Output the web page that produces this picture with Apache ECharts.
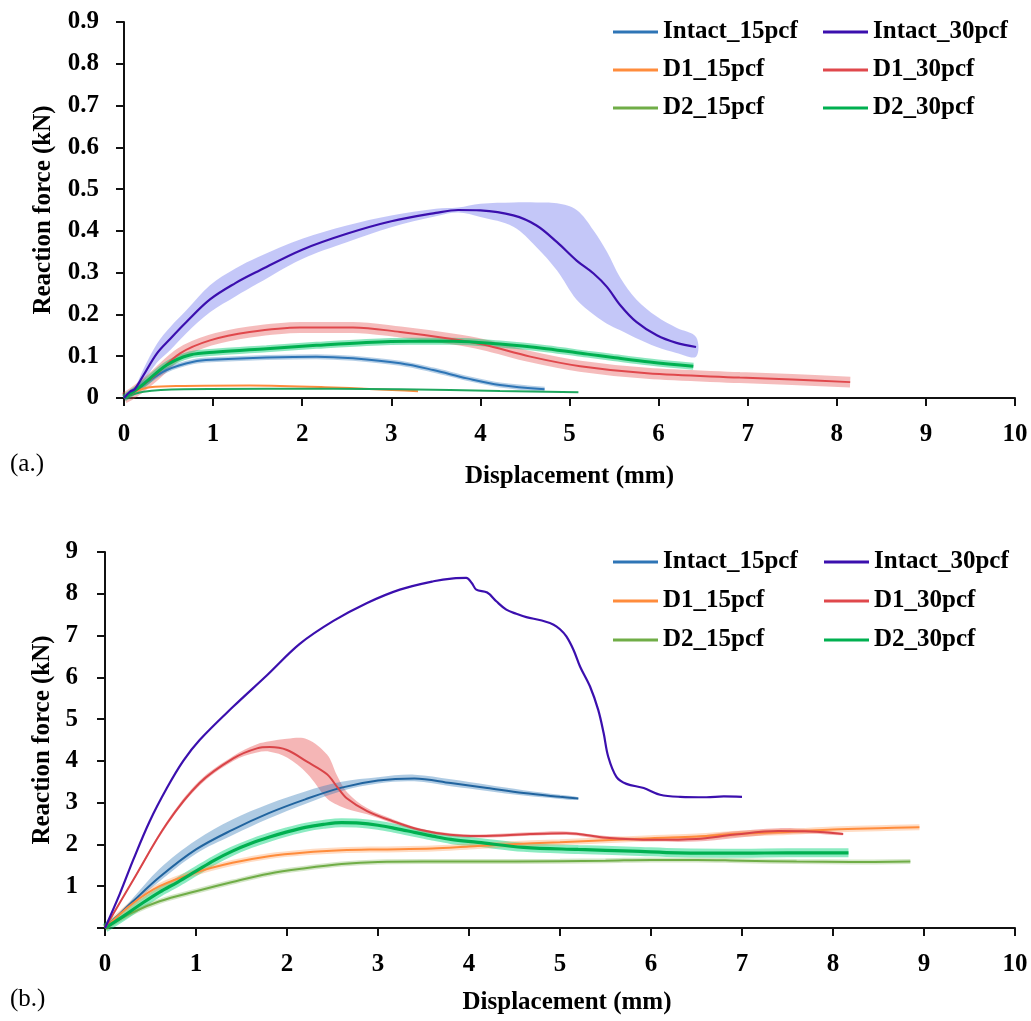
<!DOCTYPE html>
<html><head><meta charset="utf-8">
<script src="https://cdn.jsdelivr.net/npm/echarts@6/dist/echarts.min.js"></script>
<style>html,body{margin:0;padding:0;background:#fff}#c{width:1031px;height:1021px}</style>
</head><body><div id="c"></div>
<script>
// ---------- (a.) top chart data ----------
var a_int30_x = [0,0.067,0.12,0.22,0.37,0.52,0.7,0.965,1.25,1.5,2.0,2.5,3.0,3.5,3.75,4.0,4.37,4.63,4.86,5.08,5.27,5.42,5.57,5.75,5.98,6.2,6.42];
var a_int30_y = [0,0.015,0.021,0.055,0.107,0.142,0.182,0.236,0.275,0.303,0.355,0.393,0.423,0.443,0.450,0.449,0.437,0.413,0.373,0.329,0.298,0.266,0.222,0.182,0.150,0.132,0.122];
var a_int30_hi = [0,0.017,0.025,0.07,0.13,0.17,0.21,0.27,0.31,0.337,0.381,0.413,0.437,0.453,0.456,0.465,0.468,0.468,0.466,0.45,0.401,0.35,0.288,0.236,0.195,0.168,0.146];
var a_int30_lo = [0,0.013,0.018,0.04,0.085,0.115,0.155,0.205,0.243,0.274,0.333,0.373,0.409,0.435,0.444,0.433,0.41,0.361,0.305,0.235,0.2,0.178,0.162,0.143,0.122,0.108,0.099];

var a_d130_x = [0,0.1,0.33,0.63,0.965,1.41,1.975,2.57,3.1,3.66,4.03,4.56,5.12,5.87,6.91,7.5,8.15];
var a_d130_y = [0,0.012,0.051,0.107,0.138,0.158,0.169,0.169,0.158,0.142,0.128,0.099,0.076,0.059,0.049,0.044,0.038];

var a_d230_x = [0,0.2,0.48,0.74,1.04,1.6,2.16,2.72,3.2,3.7,4.22,4.74,5.2,5.49,5.9,6.39];
var a_d230_y = [0,0.03,0.079,0.103,0.110,0.118,0.126,0.133,0.136,0.136,0.129,0.118,0.105,0.097,0.086,0.076];

var a_int15_x = [0,0.2,0.48,0.78,1.04,1.6,2.16,2.57,3.1,3.47,3.85,4.22,4.72];
var a_int15_y = [0,0.03,0.067,0.087,0.092,0.097,0.099,0.095,0.083,0.067,0.047,0.031,0.021];

var a_d115_x = [0,0.12,0.29,0.67,1.41,2.35,3.3];
var a_d115_y = [0,0.015,0.026,0.029,0.030,0.025,0.016];

var a_d215_x = [0,0.22,0.67,1.6,3.1,4.22,5.1];
var a_d215_y = [0,0.015,0.021,0.022,0.021,0.017,0.014];

// ---------- (b.) bottom chart data ----------
var b_int30_x = [0,0.165,0.31,0.49,0.68,0.86,1.04,1.41,1.78,2.14,2.51,2.88,3.24,3.61,3.83,3.97,4.03,4.08,4.2,4.3,4.41,4.52,4.63,4.8,4.93,5.0,5.07,5.15,5.22,5.33,5.42,5.48,5.53,5.62,5.73,5.92,6.1,6.32,6.61,6.8,7.0];
var b_int30_y = [0,0.83,1.63,2.55,3.35,4.0,4.5,5.3,6.05,6.8,7.35,7.78,8.1,8.3,8.37,8.38,8.26,8.1,8.03,7.82,7.62,7.52,7.44,7.36,7.26,7.15,6.98,6.65,6.26,5.78,5.22,4.66,4.1,3.62,3.45,3.35,3.19,3.14,3.13,3.15,3.14];

var b_d130_x = [0,0.31,0.68,1.04,1.41,1.67,1.81,2.0,2.22,2.44,2.55,2.66,2.88,3.17,3.46,3.79,4.12,4.67,5.07,5.51,6.03,6.5,6.9,7.4,7.75,8.11];
var b_d130_y = [0,1.15,2.5,3.47,4.06,4.3,4.33,4.26,3.98,3.68,3.38,3.1,2.8,2.55,2.35,2.23,2.2,2.25,2.27,2.16,2.11,2.13,2.23,2.32,2.31,2.25];
var b_d130_hi = [0,1.18,2.55,3.53,4.12,4.4,4.47,4.53,4.52,4.15,3.65,3.25,2.87,2.6,2.39,2.27,2.24,2.29,2.31,2.2,2.15,2.2,2.31,2.39,2.36,2.28];
var b_d130_lo = [0,1.12,2.45,3.41,4.0,4.2,4.22,4.08,3.7,3.1,2.95,2.85,2.72,2.5,2.31,2.19,2.16,2.21,2.23,2.12,2.07,2.07,2.15,2.25,2.26,2.22];

var b_int15_x = [0,0.3,0.6,1.0,1.4,1.8,2.2,2.6,3.0,3.4,3.8,4.2,4.6,5.0,5.2];
var b_int15_y = [0,0.62,1.22,1.88,2.35,2.75,3.08,3.36,3.53,3.58,3.47,3.35,3.23,3.14,3.1];
var b_int15_hi = [0,0.7,1.42,2.1,2.6,2.97,3.27,3.5,3.61,3.67,3.56,3.43,3.3,3.19,3.13];
var b_int15_lo = [0,0.56,1.12,1.78,2.22,2.62,2.97,3.28,3.46,3.51,3.39,3.28,3.17,3.09,3.07];

var b_d230_x = [0,0.2,0.4,0.6,0.8,1.0,1.2,1.4,1.6,1.8,2.0,2.2,2.4,2.6,2.8,3.0,3.2,3.4,3.6,3.8,4.1,4.6,5.2,5.8,6.3,7.0,7.5,8.17];
var b_d230_y = [0,0.28,0.58,0.86,1.1,1.36,1.62,1.84,2.02,2.17,2.3,2.41,2.48,2.52,2.51,2.46,2.38,2.29,2.2,2.12,2.05,1.93,1.88,1.84,1.8,1.79,1.8,1.8];

var b_d115_x = [0,0.3,0.6,1.0,1.4,1.8,2.2,2.6,3.0,3.6,4.0,4.4,5.0,5.5,6.0,6.5,7.0,7.5,8.0,8.5,8.95];
var b_d115_y = [0,0.58,1.0,1.33,1.56,1.72,1.81,1.86,1.88,1.9,1.95,2.0,2.05,2.1,2.15,2.19,2.26,2.3,2.36,2.39,2.41];

var b_d215_x = [0,0.3,0.6,1.0,1.4,1.8,2.2,2.6,3.0,3.5,4.0,5.0,5.5,6.0,6.5,7.0,7.6,8.2,8.85];
var b_d215_y = [0,0.37,0.64,0.88,1.1,1.3,1.43,1.53,1.58,1.59,1.59,1.6,1.61,1.63,1.63,1.61,1.59,1.58,1.59];

var xTicks = [0,1,2,3,4,5,6,7,8,9,10];
var names = ['Intact_15pcf','Intact_30pcf','D1_15pcf','D1_30pcf','D2_15pcf','D2_30pcf'];

// ---------- helpers ----------
var FONT = '"Liberation Serif", "Times New Roman", serif';
var SM = 0.35;
function zip(xs, ys){ return xs.map(function(x,i){ return [x, ys[i]]; }); }

function lineS(name, gi, xs, ys, color, w, z){
  return {name:name, type:'line', xAxisIndex:gi, yAxisIndex:gi, data:zip(xs,ys),
    showSymbol:false, symbol:'none', smooth:SM, z:z||5,
    itemStyle:{color:color}, lineStyle:{color:color, width:w||2}, animation:false};
}
function glowS(gi, xs, ys, color, w, op){
  return {name:'_glow', type:'line', xAxisIndex:gi, yAxisIndex:gi, data:zip(xs,ys),
    showSymbol:false, symbol:'none', smooth:SM, silent:true, z:2,
    lineStyle:{color:color, width:w, opacity:op, cap:'butt'}, animation:false};
}
function bandS(gi, xs, lo, hi, fill){
  return {name:'_band', type:'custom', xAxisIndex:gi, yAxisIndex:gi, silent:true, z:1,
    data: xs.map(function(x,i){ return [x, lo[i], hi[i]]; }),
    encode:{x:0, y:[1,2]},
    renderItem: function(params, api){
      if (params.dataIndex !== 0) return null;
      var pts = [], i;
      for (i=0;i<xs.length;i++) pts.push(api.coord([xs[i], hi[i]]));
      for (i=xs.length-1;i>=0;i--) pts.push(api.coord([xs[i], lo[i]]));
      return {type:'polygon', shape:{points:pts, smooth:SM}, style:{fill:fill}};
    }, animation:false};
}

var axisLineStyle = {color:'#111', width:2};
function xAx(gi, nameGap, pad){
  return {type:'value', gridIndex:gi, min:xTicks[0], max:xTicks[xTicks.length-1], interval:1,
    axisLine:{lineStyle:axisLineStyle, onZero:false},
    axisTick:{show:true, inside:false, length:8, lineStyle:axisLineStyle},
    splitLine:{show:false},
    axisLabel:{fontFamily:FONT, fontWeight:'bold', fontSize:25, color:'#000', margin:24},
    name:'Displacement (mm)', nameLocation:'middle', nameGap:nameGap,
    nameTextStyle:{fontFamily:FONT, fontWeight:'bold', fontSize:25, color:'#000', padding:pad||0}};
}
function yAx(gi, max, interval, fmt, margin, nameGap){
  return {type:'value', gridIndex:gi, min:0, max:max, interval:interval,
    axisLine:{show:true, lineStyle:axisLineStyle},
    axisTick:{show:true, inside:false, length:8, lineStyle:axisLineStyle},
    splitLine:{show:false},
    axisLabel:{fontFamily:FONT, fontWeight:'bold', fontSize:25, color:'#000', margin:margin, formatter:fmt},
    name:'Reaction force (kN)', nameLocation:'middle', nameGap:nameGap, nameRotate:90,
    nameTextStyle:{fontFamily:FONT, fontWeight:'bold', fontSize:25, color:'#000'}};
}
function legendBox(data, left, top, gap){
  return {data:data, orient:'vertical', left:left, top:top, itemGap:gap,
    icon:'rect', itemWidth:45, itemHeight:3, padding:0, selectedMode:false,
    textStyle:{fontFamily:FONT, fontWeight:'bold', fontSize:25, lineHeight:26, color:'#000'}};
}

var C = {int15:'#2E75B6', int30:'#3B0FAE', d115:'#FF8C3C', d130:'#E0484C', d215:'#70AD47', d230:'#00B050'};

var series = [
  // top
  bandS(0, a_int30_x, a_int30_lo, a_int30_hi, 'rgba(125,130,240,0.45)'),
  glowS(0, a_d130_x, a_d130_y, 'rgba(230,80,80,1)', 11, 0.38),
  glowS(0, a_d230_x, a_d230_y, 'rgba(0,200,110,1)', 7, 0.45),
  glowS(0, a_int15_x, a_int15_y, 'rgba(46,117,182,1)', 5, 0.35),
  lineS('Intact_15pcf', 0, a_int15_x, a_int15_y, C.int15, 2),
  lineS('D1_15pcf', 0, a_d115_x, a_d115_y, C.d115, 2),
  lineS('D2_15pcf', 0, a_d215_x, a_d215_y, '#1FA75E', 2),
  lineS('D1_30pcf', 0, a_d130_x, a_d130_y, C.d130, 2),
  lineS('D2_30pcf', 0, a_d230_x, a_d230_y, C.d230, 3),
  lineS('Intact_30pcf', 0, a_int30_x, a_int30_y, C.int30, 2.2, 6),
  // bottom
  bandS(1, b_d130_x, b_d130_lo, b_d130_hi, 'rgba(230,80,80,0.42)'),
  bandS(1, b_int15_x, b_int15_lo, b_int15_hi, 'rgba(46,117,182,0.38)'),
  glowS(1, b_d230_x, b_d230_y, 'rgba(0,210,120,1)', 9, 0.45),
  glowS(1, b_d115_x, b_d115_y, 'rgba(255,140,60,1)', 6, 0.3),
  glowS(1, b_d215_x, b_d215_y, 'rgba(112,173,71,1)', 5, 0.3),
  lineS('Intact_15pcf', 1, b_int15_x, b_int15_y, '#21649F', 2),
  lineS('D1_15pcf', 1, b_d115_x, b_d115_y, C.d115, 2),
  lineS('D2_15pcf', 1, b_d215_x, b_d215_y, C.d215, 2),
  lineS('D2_30pcf', 1, b_d230_x, b_d230_y, C.d230, 3.2),
  lineS('D1_30pcf', 1, b_d130_x, b_d130_y, '#D94448', 2),
  lineS('Intact_30pcf', 1, b_int30_x, b_int30_y, C.int30, 2.2, 6)
];

var col1 = [{name:names[0], itemStyle:{color:C.int15}}, {name:names[2], itemStyle:{color:C.d115}}, {name:names[4], itemStyle:{color:C.d215}}];
var col2 = [{name:names[1], itemStyle:{color:C.int30}}, {name:names[3], itemStyle:{color:C.d130}}, {name:names[5], itemStyle:{color:C.d230}}];

var option = {
  animation:false,
  backgroundColor:'#fff',
  grid:[{left:124, right:16, top:22, height:376}, {left:105, right:16, top:552, height:376}],
  xAxis:[xAx(0, 66), xAx(1, 62, [0,0,0,14])],
  yAxis:[
    yAx(0, 0.9, 0.1, function(v){ return v === 0 ? '0' : v.toFixed(1); }, 25, 68),
    yAx(1, 9, 1, function(v){ return v === 0 ? '' : String(v); }, 27, 50)
  ],
  legend:[legendBox(col1, 613, 19, 12), legendBox(col2, 823, 19, 12),
          legendBox(col1, 613, 549, 13), legendBox(col2, 824, 549, 13)],
  graphic:[
    {type:'text', left:10, top:452, style:{text:'(a.)', font:'25px ' + FONT, fill:'#000'}},
    {type:'text', left:10, top:987, style:{text:'(b.)', font:'25px ' + FONT, fill:'#000'}}
  ],
  series:series
};
var chart = echarts.init(document.getElementById('c'), null, {renderer:'canvas'});
chart.setOption(option);
</script></body></html>
